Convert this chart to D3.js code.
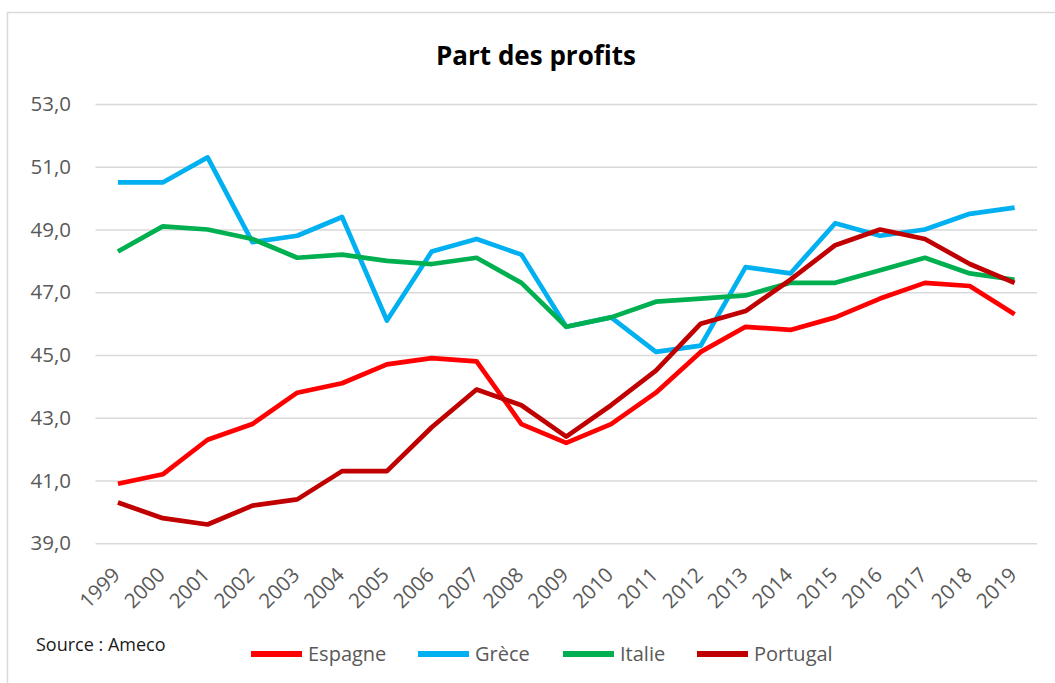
<!DOCTYPE html>
<html>
<head>
<meta charset="utf-8">
<script src="https://cdn.jsdelivr.net/npm/d3@7"></script>
<style>
  body { margin: 0; background: #fff; }
  svg { display: block; font-family: "Open Sans", sans-serif; }
</style>
</head>
<body>
<svg></svg>
<script>
/* data */
const years = ["1999","2000","2001","2002","2003","2004","2005","2006","2007","2008","2009",
               "2010","2011","2012","2013","2014","2015","2016","2017","2018","2019"];
const espagne  = [40.9,41.2,42.3,42.8,43.8,44.1,44.7,44.9,44.8,42.8,42.2,42.8,43.8,45.1,45.9,45.8,46.2,46.8,47.3,47.2,46.3];
const grece    = [50.5,50.5,51.3,48.6,48.8,49.4,46.1,48.3,48.7,48.2,45.9,46.2,45.1,45.3,47.8,47.6,49.2,48.8,49.0,49.5,49.7];
const italie   = [48.3,49.1,49.0,48.7,48.1,48.2,48.0,47.9,48.1,47.3,45.9,46.2,46.7,46.8,46.9,47.3,47.3,47.7,48.1,47.6,47.4];
const portugal = [40.3,39.8,39.6,40.2,40.4,41.3,41.3,42.7,43.9,43.4,42.4,43.4,44.5,46.0,46.4,47.4,48.5,49.0,48.7,47.9,47.3];
const seriesNames = ["Espagne","Grèce","Italie","Portugal"];
const yTicks = [39,41,43,45,47,49,51,53];

const series = [
  {name: seriesNames[0], values: espagne,  color: "#FF0000"},
  {name: seriesNames[1], values: grece,    color: "#00B0F0"},
  {name: seriesNames[2], values: italie,   color: "#00B050"},
  {name: seriesNames[3], values: portugal, color: "#C00000"}
];

/* basic setup */
const W = 1055, H = 683;
const svg = d3.select("svg").attr("width", W).attr("height", H);

// chart frame
svg.append("rect")
  .attr("x", 7.5).attr("y", 12.5)
  .attr("width", 1200).attr("height", 1000)
  .attr("fill", "none").attr("stroke", "#D9D9D9").attr("stroke-width", 1.5);

const plotL = 95.5, plotR = 1037, plotT = 104, plotB = 543.3;

const x = d3.scaleBand().domain(years).range([plotL, plotR]);
const y = d3.scaleLinear().domain([39, 53]).range([plotB, plotT]);
const cx = d => x(d) + x.bandwidth() / 2;

// title
svg.append("text")
  .attr("x", 536).attr("y", 65)
  .attr("text-anchor", "middle")
  .attr("font-size", 26).attr("font-weight", "bold").attr("fill", "#000")
  .text("Part des profits");

// y axis + grid
const yAxis = svg.append("g")
  .attr("transform", `translate(${plotL},0)`)
  .call(d3.axisLeft(y).tickValues(yTicks).tickSize(-(plotR - plotL)).tickPadding(24.5)
        .tickFormat(d => d.toFixed(1).replace(".", ",")));
yAxis.select(".domain").remove();
yAxis.selectAll(".tick line").attr("stroke", "#D9D9D9").attr("stroke-width", 1.5);
yAxis.selectAll(".tick text").attr("fill", "#595959").attr("font-size", 20.5)
  .attr("font-family", "Open Sans, sans-serif");

// x axis labels
const xAxis = svg.append("g")
  .attr("transform", `translate(0,${plotB})`)
  .call(d3.axisBottom(x).tickSize(0));
xAxis.select(".domain").remove();
xAxis.selectAll(".tick text")
  .attr("fill", "#595959").attr("font-size", 20.5)
  .attr("font-family", "Open Sans, sans-serif")
  .attr("text-anchor", "end")
  .attr("transform", "translate(3.5,33) rotate(-45)")
  .attr("y", 0).attr("dy", 0);

// lines
const line = d3.line()
  .x((d, i) => cx(years[i]))
  .y(d => y(d));

svg.append("g").selectAll("path")
  .data(series)
  .enter()
  .append("path")
  .attr("d", d => line(d.values))
  .attr("fill", "none")
  .attr("stroke", d => d.color)
  .attr("stroke-width", 4.7)
  .attr("stroke-linejoin", "round");

// source
svg.append("text")
  .attr("x", 36).attr("y", 651)
  .attr("font-size", 18).attr("fill", "#1a1a1a")
  .text("Source : Ameco");

// legend
const legendX = [251, 418, 563, 697];
const legend = svg.append("g").selectAll("g")
  .data(series)
  .enter()
  .append("g")
  .attr("transform", (d, i) => `translate(${legendX[i]},654)`);
legend.append("line")
  .attr("x1", 0).attr("x2", 51)
  .attr("stroke", d => d.color).attr("stroke-width", 6);
legend.append("text")
  .attr("x", 57).attr("dy", "0.35em")
  .attr("font-size", 20).attr("fill", "#595959")
  .text(d => d.name);
</script>
</body>
</html>
